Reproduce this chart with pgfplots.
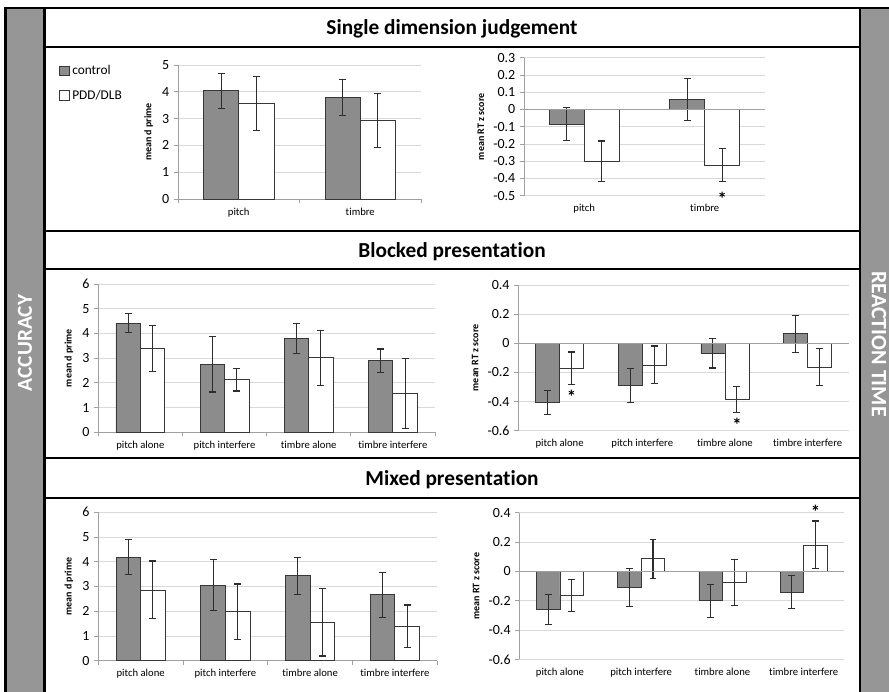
\documentclass[border=0pt]{standalone}
\usepackage{fontspec}
\setmainfont{Carlito}[Ligatures=NoCommon]
\usepackage{pgfplots}
\pgfplotsset{compat=1.18}
\definecolor{bandgray}{RGB}{150,150,150}
\definecolor{barfill}{RGB}{140,140,140}
\definecolor{baredge}{RGB}{55,55,55}
\definecolor{errc}{RGB}{45,45,45}
\definecolor{gridc}{RGB}{217,217,217}
\definecolor{axisc}{RGB}{160,160,160}
\tikzset{astar/.style={anchor=north, inner sep=0pt, font=\bfseries\fontsize{14}{16}\selectfont}}
\pgfplotsset{
  base/.style={
    scale only axis, clip=false,
    axis y line*=left, axis x line*=bottom,
    enlarge x limits=false,
    ymajorgrids, grid style={draw=gridc, line width=0.6pt},
    axis line style={draw=axisc, line width=0.6pt},
    tick style={draw=axisc, line width=0.6pt},
    tick align=outside, major tick length=3pt,
    x tick label as interval,
    yticklabel style={font=\fontsize{10.5}{12}\selectfont},
    xticklabel style={font=\fontsize{8}{10}\selectfont},
    ylabel style={font=\bfseries\fontsize{7.5}{9}\selectfont},
    /pgf/number format/assume math mode=true,
    /pgf/number format/fixed, /pgf/number format/precision=2,
    ybar, bar width=0.29,
  },
  rt/.style={x axis line style={draw=none}, xtick style={draw=none},
    /pgf/number format/precision=1},
  ctrl/.style={fill=barfill, draw=baredge, line width=0.6pt, bar shift=-0.145, forget plot,
    error bars/.cd, y dir=both, y explicit, error mark=-,
    error bar style={line width=0.8pt, draw=errc},
    error mark options={rotate=90, line width=0.8pt, draw=errc, mark size=2.6pt}},
  pdd/.style={fill=white, draw=baredge, line width=0.6pt, bar shift=0.145, forget plot,
    error bars/.cd, y dir=both, y explicit, error mark=-,
    error bar style={line width=0.8pt, draw=errc},
    error mark options={rotate=90, line width=0.8pt, draw=errc, mark size=2.6pt}},
  sqlegend/.style={legend image code/.code={\draw[##1] (0pt,-3.6pt) rectangle (7.2pt,3.6pt);}},
}
\begin{document}
\begin{tikzpicture}
\useasboundingbox (0,0) rectangle (666.75pt,-519pt);
\clip (0,0) rectangle (666.75pt,-519pt);
\begin{scope}[x=0.75pt,y=-0.75pt]
  \fill[bandgray] (5,7) rectangle (44,700);
  \fill[bandgray] (860,7) rectangle (900,700);
  \draw[line width=1.9pt] (5.7,700) -- (5.7,7.8) -- (900,7.8);
  \draw[line width=1.9pt] (44.5,7.8) -- (44.5,700);
  \draw[line width=1.9pt] (860,7.8) -- (860,700);
  \foreach \yy in {47,231,269,458,498} \draw[line width=1.9pt] (44.5,\yy) -- (860,\yy);
  \node[anchor=base, font=\bfseries\fontsize{16}{19}\selectfont] at (452,34.5) {Single dimension judgement};
  \node[anchor=base, font=\bfseries\fontsize{16}{19}\selectfont] at (452,257) {Blocked presentation};
  \node[anchor=base, font=\bfseries\fontsize{16}{19}\selectfont] at (452,485) {Mixed presentation};
  \node[rotate=90, text=white, font=\bfseries\fontsize{16}{18}\selectfont] at (25,343) {ACCURACY};
  \node[rotate=-90, text=white, font=\bfseries\fontsize{16.5}{18}\selectfont] at (879,344) {REACTION TIME};
\end{scope}

% Single dimension - accuracy
\begin{axis}[base, at={(133.5pt,-149.25pt)}, anchor=south west,
  width=182.25pt, height=100.5pt, xmin=-0.5, xmax=1.5, ymin=0, ymax=5,
  ytick={0,1,2,3,4,5}, xtick={-0.5,0.5,1.5}, xticklabels={pitch,timbre},
  ylabel={mean d prime},
  legend style={at={(-0.49,1.02)}, anchor=north west, draw=none, fill=none,
    font=\fontsize{10}{12}\selectfont, row sep=6pt, inner sep=0pt},
  legend cell align=left]
\addplot[ctrl] coordinates {(0,4.04) +- (0,0.65) (1,3.79) +- (0,0.68)};
\addplot[pdd] coordinates {(0,3.55) +- (0,1.01) (1,2.93) +- (0,1.01)};
\addlegendimage{sqlegend, fill=barfill, draw=baredge, line width=0.6pt}
\addlegendentry{control}
\addlegendimage{sqlegend, fill=white, draw=baredge, line width=0.6pt}
\addlegendentry{PDD/DLB}
\end{axis}

% Single dimension - RT
\begin{axis}[base, rt, at={(393pt,-146.78pt)}, anchor=south west,
  width=180.75pt, height=103.5pt, xmin=-0.5, xmax=1.5, ymin=-0.5, ymax=0.3,
  ytick={-0.5,-0.4,-0.3,-0.2,-0.1,0,0.1,0.2,0.3}, xtick={-0.5,0.5,1.5}, xticklabels={pitch,timbre},
  ylabel={mean RT z score}]
\addplot[ctrl] coordinates {(0,-0.085) +- (0,0.095) (1,0.058) +- (0,0.12)};
\addplot[pdd] coordinates {(0,-0.30) +- (0,0.117) (1,-0.322) +- (0,0.095)};
\draw[draw=axisc, line width=0.6pt] (axis cs:-0.5,0) -- (axis cs:1.5,0);
\node[astar] at (axis cs:1.145,-0.475) {*};
\end{axis}

% Blocked - accuracy
\begin{axis}[base, at={(73.7pt,-324.2pt)}, anchor=south west,
  width=252.5pt, height=111.2pt, xmin=-0.5, xmax=3.5, ymin=0, ymax=6,
  ytick={0,1,2,3,4,5,6}, xtick={-0.5,0.5,1.5,2.5,3.5},
  xticklabels={pitch alone,pitch interfere,timbre alone,timbre interfere},
  ylabel={mean d prime}]
\addplot[ctrl] coordinates {(0,4.42) +- (0,0.39) (1,2.75) +- (0,1.12) (2,3.79) +- (0,0.62) (3,2.90) +- (0,0.47)};
\addplot[pdd] coordinates {(0,3.38) +- (0,0.93) (1,2.13) +- (0,0.46) (2,3.01) +- (0,1.10) (3,1.57) +- (0,1.41)};
\end{axis}

% Blocked - RT
\begin{axis}[base, rt, at={(388.7pt,-323pt)}, anchor=south west,
  width=248pt, height=109.3pt, xmin=-0.5, xmax=3.5, ymin=-0.6, ymax=0.4,
  ytick={-0.6,-0.4,-0.2,0,0.2,0.4}, xtick={-0.5,0.5,1.5,2.5,3.5},
  xticklabels={pitch alone,pitch interfere,timbre alone,timbre interfere},
  ylabel={mean RT z score}]
\addplot[ctrl] coordinates {(0,-0.408) +- (0,0.083) (1,-0.29) +- (0,0.117) (2,-0.07) +- (0,0.10) (3,0.065) +- (0,0.127)};
\addplot[pdd] coordinates {(0,-0.17) +- (0,0.11) (1,-0.149) +- (0,0.13) (2,-0.387) +- (0,0.09) (3,-0.164) +- (0,0.125)};
\draw[draw=axisc, line width=0.6pt] (axis cs:-0.5,0) -- (axis cs:3.5,0);
\node[astar] at (axis cs:0.145,-0.32) {*};
\node[astar] at (axis cs:2.145,-0.515) {*};
\end{axis}

% Mixed - accuracy
\begin{axis}[base, at={(73.7pt,-495.5pt)}, anchor=south west,
  width=254.25pt, height=111.3pt, xmin=-0.5, xmax=3.5, ymin=0, ymax=6,
  ytick={0,1,2,3,4,5,6}, xtick={-0.5,0.5,1.5,2.5,3.5},
  xticklabels={pitch alone,pitch interfere,timbre alone,timbre interfere},
  ylabel={mean d prime}]
\addplot[ctrl] coordinates {(0,4.19) +- (0,0.71) (1,3.05) +- (0,1.04) (2,3.43) +- (0,0.75) (3,2.66) +- (0,0.90)};
\addplot[pdd] coordinates {(0,2.86) +- (0,1.17) (1,1.98) +- (0,1.12) (2,1.55) +- (0,1.36) (3,1.39) +- (0,0.86)};
\end{axis}

% Mixed - RT
\begin{axis}[base, rt, at={(389.5pt,-494.5pt)}, anchor=south west,
  width=243.75pt, height=110pt, xmin=-0.5, xmax=3.5, ymin=-0.6, ymax=0.4,
  ytick={-0.6,-0.4,-0.2,0,0.2,0.4}, xtick={-0.5,0.5,1.5,2.5,3.5},
  xticklabels={pitch alone,pitch interfere,timbre alone,timbre interfere},
  ylabel={mean RT z score}]
\addplot[ctrl] coordinates {(0,-0.26) +- (0,0.105) (1,-0.11) +- (0,0.13) (2,-0.20) +- (0,0.112) (3,-0.142) +- (0,0.114)};
\addplot[pdd] coordinates {(0,-0.165) +- (0,0.112) (1,0.087) +- (0,0.133) (2,-0.075) +- (0,0.155) (3,0.18) +- (0,0.163)};
\draw[draw=axisc, line width=0.6pt] (axis cs:-0.5,0) -- (axis cs:3.5,0);
\node[astar] at (axis cs:3.145,0.45) {*};
\end{axis}
\end{tikzpicture}
\end{document}
